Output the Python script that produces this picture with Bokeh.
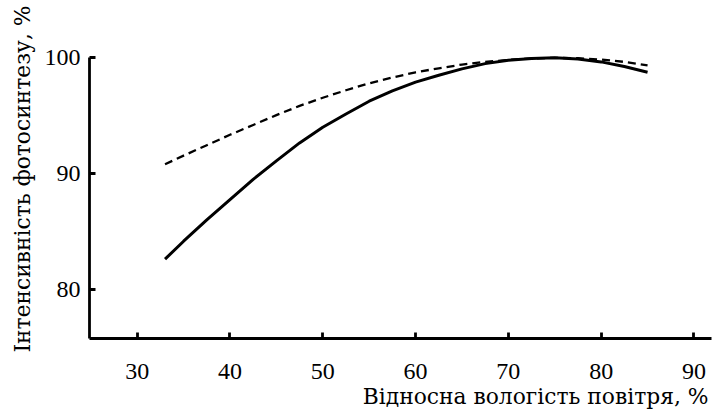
from bokeh.plotting import figure
from bokeh.models import Range1d, FixedTicker, Title
from bokeh.embed import file_html
from bokeh.resources import INLINE

# Relative air humidity, %
humidity = [33, 35, 37.5, 40, 42.5, 45, 47.5, 50, 52.5, 55, 57.5, 60,
            62.5, 65, 67.5, 70, 72.5, 75, 77.5, 80, 82.5, 85]
# Photosynthesis intensity, % (solid curve)
solid_curve = [82.6, 84.15, 86.0, 87.75, 89.5, 91.1, 92.65, 94.0, 95.15, 96.25,
               97.15, 97.9, 98.5, 99.05, 99.5, 99.8, 99.95, 100.0, 99.9, 99.65,
               99.25, 98.75]
# Photosynthesis intensity, % (dashed curve)
dashed_curve = [90.8, 91.55, 92.45, 93.35, 94.2, 95.05, 95.85, 96.55, 97.2, 97.8,
                98.3, 98.75, 99.1, 99.42, 99.65, 99.82, 99.95, 100.0, 99.97, 99.85,
                99.65, 99.35]

x_ticks = [30, 40, 50, 60, 70, 80, 90]
y_ticks = [80, 90, 100]
x_title = "Відносна вологість повітря, %"
y_title = "Інтенсивність фотосинтезу, %"

TICK_FONT = "Liberation Serif, DejaVu Serif, serif"
TITLE_FONT = "DejaVu Serif, serif"

X0, X1 = 24.86, 91.89
Y0, Y1 = 75.74, 100.29

p = figure(width=715, height=414, output_backend="svg", toolbar_location=None,
           x_range=Range1d(X0, X1), y_range=Range1d(Y0, Y1))
p.min_border_left = 89
p.min_border_right = 4
p.min_border_top = 54
p.min_border_bottom = 76
p.outline_line_color = None
p.background_fill_color = "white"
p.border_fill_color = "white"
p.xgrid.visible = False
p.ygrid.visible = False

p.line(humidity, solid_curve, line_color="black", line_width=3)
p.line(humidity, dashed_curve, line_color="black", line_width=2.3, line_dash="8 5")

for ax in (p.xaxis[0], p.yaxis[0]):
    ax.axis_line_color = "black"
    ax.axis_line_width = 2.8
    ax.major_tick_line_color = "black"
    ax.major_tick_line_width = 2.8
    ax.major_tick_in = 6
    ax.major_tick_out = 0
    ax.minor_tick_line_color = None
    ax.major_label_text_font = TICK_FONT
    ax.major_label_text_font_size = "24px"
    ax.major_label_text_color = "black"

p.xaxis[0].ticker = FixedTicker(ticks=x_ticks)
p.yaxis[0].ticker = FixedTicker(ticks=y_ticks)
p.xaxis[0].major_label_standoff = 25
p.yaxis[0].major_label_standoff = 9
p.yaxis[0].bounds = (Y0, 100)

p.add_layout(Title(text=x_title, align="right", vertical_align="top", offset=3,
                   standoff=5, text_font=TITLE_FONT, text_font_size="21.8px",
                   text_line_height=1.0,
                   text_font_style="normal", text_color="black"), "below")
p.add_layout(Title(text=y_title, align="right", vertical_align="bottom", offset=-49,
                   standoff=14, text_font=TITLE_FONT, text_font_size="21.8px",
                   text_line_height=1.0,
                   text_font_style="normal", text_color="black"), "left")

open("out.html", "w").write(file_html(p, INLINE))
